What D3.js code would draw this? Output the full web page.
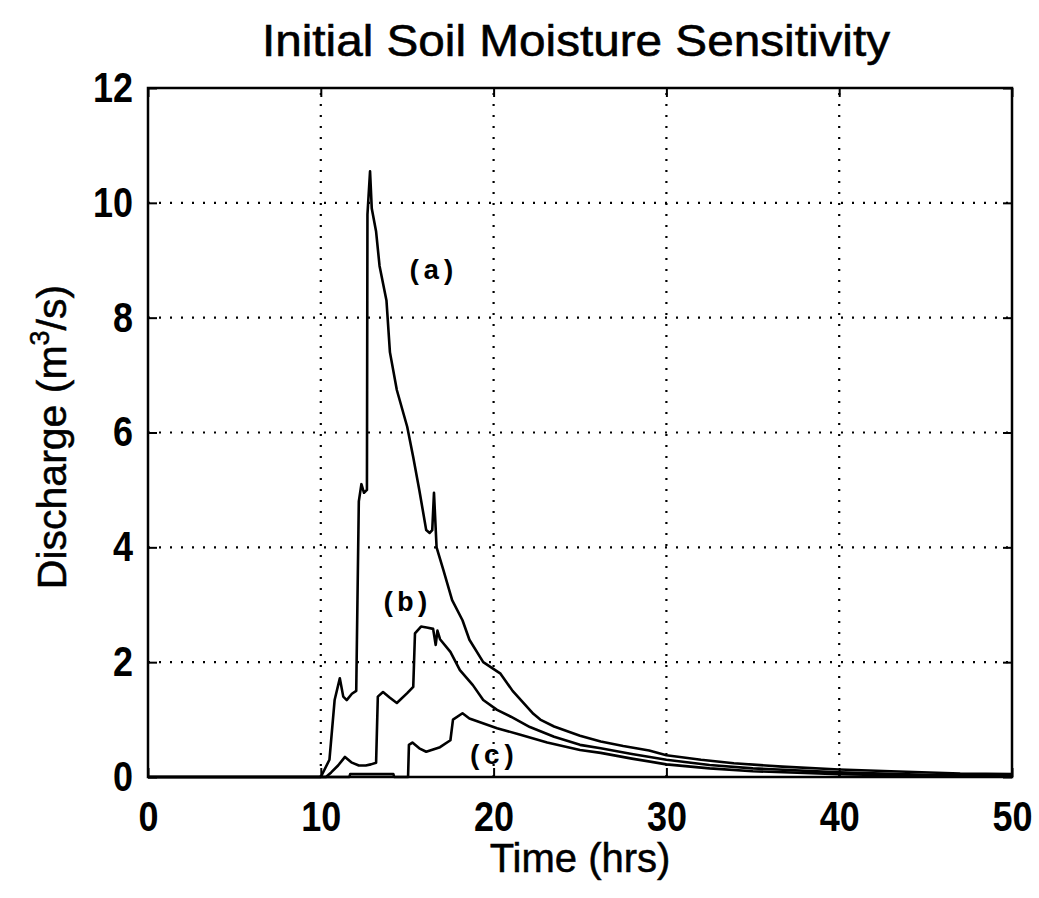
<!DOCTYPE html>
<html>
<head>
<meta charset="utf-8">
<script src="https://cdn.jsdelivr.net/npm/d3@7"></script>
<style>
  body { margin: 0; background: #fff; }
  svg { display: block; }
</style>
</head>
<body>
<div id="chart"></div>
<script>
// Series (time in hrs, discharge in m3/s)
const timeA = [0, 10, 10.5, 10.8, 11.1, 11.3, 11.5, 11.8, 12.05, 12.2, 12.35, 12.5, 12.67, 12.7, 12.85, 12.95, 13.2, 13.4, 13.8, 14.0, 14.4, 15.0, 15.35, 15.7, 16.1, 16.3, 16.45, 16.55, 16.7, 17.1, 17.6, 18.2, 18.6, 19.4, 20.4, 21.1, 22.3, 22.7, 23.5, 25, 26.2, 27.5, 29, 30, 32, 33.9, 36.7, 40, 43, 47, 50];
const flowA = [0, 0, 0.3, 1.34, 1.72, 1.4, 1.34, 1.45, 1.5, 4.8, 5.1, 4.95, 5.0, 9.8, 10.55, 9.9, 9.5, 8.9, 8.3, 7.4, 6.74, 6.1, 5.57, 5.0, 4.3, 4.25, 4.3, 4.95, 4.0, 3.6, 3.08, 2.73, 2.39, 2.0, 1.8, 1.5, 1.1, 1.0, 0.88, 0.72, 0.62, 0.54, 0.46, 0.38, 0.3, 0.24, 0.18, 0.13, 0.1, 0.06, 0.05];

const timeB = [0, 10.3, 10.6, 11.0, 11.4, 11.8, 12.2, 12.6, 12.9, 13.2, 13.3, 13.6, 14.0, 14.4, 15.0, 15.35, 15.45, 15.8, 16.2, 16.5, 16.65, 16.75, 16.9, 17.5, 18.05, 18.8, 19.4, 20.2, 21, 22.1, 23.5, 25, 26.2, 28, 30, 32.5, 35, 40, 45, 50];
const flowB = [0, 0, 0.08, 0.2, 0.35, 0.25, 0.2, 0.2, 0.22, 0.25, 1.4, 1.48, 1.38, 1.29, 1.46, 1.57, 2.5, 2.62, 2.6, 2.58, 2.3, 2.55, 2.4, 2.18, 1.86, 1.6, 1.34, 1.17, 1.05, 0.87, 0.7, 0.56, 0.5, 0.4, 0.3, 0.21, 0.15, 0.08, 0.04, 0.02];

const timeC = [0, 11.65, 11.7, 14.2, 14.25, 15.05, 15.1, 15.3, 15.7, 16.1, 16.9, 17.5, 17.65, 18.2, 18.6, 20.2, 21.5, 23.1, 25, 26.2, 28, 30, 32.5, 35, 40, 45, 50];
const flowC = [0, 0, 0.05, 0.05, 0, 0, 0.56, 0.6, 0.5, 0.44, 0.52, 0.64, 1.0, 1.11, 1.02, 0.85, 0.74, 0.6, 0.47, 0.42, 0.32, 0.22, 0.15, 0.1, 0.05, 0.02, 0.01];

const xTicks = [0, 10, 20, 30, 40, 50];
const yTicks = [0, 2, 4, 6, 8, 10, 12];

const curveLabels = ["(a)", "(b)", "(c)"];
const labelTime = [16.4, 14.9, 19.9];
const labelFlow = [8.8, 3.03, 0.36];

const width = 1039, height = 898;
const margin = {top: 88, right: 27, bottom: 121, left: 148};

const svg = d3.select("#chart")
    .append("svg")
    .attr("width", width)
    .attr("height", height);

const x = d3.scaleLinear().domain([0, 50]).range([margin.left, width - margin.right]);
const y = d3.scaleLinear().domain([0, 12]).range([height - margin.bottom, margin.top]);

// dotted grid
const grid = svg.append("g")
    .attr("stroke", "#000")
    .attr("stroke-width", 2.2)
    .attr("stroke-dasharray", "2,9");

grid.selectAll("line.gx")
    .data(xTicks.slice(1, -1))
    .enter().append("line")
    .attr("x1", d => x(d)).attr("x2", d => x(d))
    .attr("y1", y(0)).attr("y2", y(12));

grid.selectAll("line.gy")
    .data(yTicks.slice(1, -1))
    .enter().append("line")
    .attr("x1", x(0)).attr("x2", x(50))
    .attr("y1", d => y(d)).attr("y2", d => y(d));

// axes - MATLAB style, ticks pointing in on all four sides
const tickLen = 9;
const axisFont = "'Liberation Sans', Arial, sans-serif";

svg.append("g")
    .attr("transform", `translate(0,${y(0)})`)
    .call(d3.axisBottom(x).tickValues(xTicks).tickSize(-tickLen).tickPadding(24))
    .call(g => g.select(".domain").remove());

svg.append("g")
    .attr("transform", `translate(0,${y(12)})`)
    .call(d3.axisTop(x).tickValues(xTicks).tickSize(-tickLen).tickFormat(""))
    .call(g => g.select(".domain").remove());

svg.append("g")
    .attr("transform", `translate(${x(0)},0)`)
    .call(d3.axisLeft(y).tickValues(yTicks).tickSize(-tickLen).tickPadding(15))
    .call(g => g.select(".domain").remove());

svg.append("g")
    .attr("transform", `translate(${x(50)},0)`)
    .call(d3.axisRight(y).tickValues(yTicks).tickSize(-tickLen).tickFormat(""))
    .call(g => g.select(".domain").remove());

svg.selectAll(".tick line").attr("stroke", "#000").attr("stroke-width", 2);
// tick digits in the picture are tall and narrow
svg.selectAll(".tick text")
    .attr("fill", "#000")
    .attr("font-family", axisFont)
    .attr("font-weight", "bold")
    .attr("font-size", "42px")
    .attr("textLength", function() { return this.textContent.length * 20; })
    .attr("lengthAdjust", "spacingAndGlyphs");

// frame
svg.append("rect")
    .attr("x", x(0)).attr("y", y(12))
    .attr("width", x(50) - x(0)).attr("height", y(0) - y(12))
    .attr("fill", "none")
    .attr("stroke", "#000")
    .attr("stroke-width", 2.5);

// curves
const line = d3.line().x(d => x(d[0])).y(d => y(d[1]));
const series = [
    d3.zip(timeA, flowA),
    d3.zip(timeB, flowB),
    d3.zip(timeC, flowC)
];

svg.append("g")
    .selectAll("path")
    .data(series)
    .enter().append("path")
    .attr("d", line)
    .attr("fill", "none")
    .attr("stroke", "#000")
    .attr("stroke-width", 2.6)
    .attr("stroke-linejoin", "round");

// curve labels
svg.append("g")
    .selectAll("text")
    .data(curveLabels)
    .enter().append("text")
    .attr("x", (d, i) => x(labelTime[i]))
    .attr("y", (d, i) => y(labelFlow[i]))
    .attr("text-anchor", "middle")
    .attr("dominant-baseline", "central")
    .attr("font-family", "'Liberation Mono', 'Courier New', monospace")
    .attr("font-weight", "bold")
    .attr("font-size", "28px")
    .text(d => d);

// titles
svg.append("text")
    .attr("x", 576).attr("y", 56)
    .attr("text-anchor", "middle")
    .attr("font-family", axisFont)
    .attr("font-size", "45px")
    .attr("textLength", 628)
    .attr("lengthAdjust", "spacingAndGlyphs")
    .attr("stroke", "#000")
    .attr("stroke-width", 0.6)
    .text("Initial Soil Moisture Sensitivity");

svg.append("text")
    .attr("x", 580).attr("y", 872)
    .attr("text-anchor", "middle")
    .attr("font-family", axisFont)
    .attr("font-size", "40px")
    .attr("stroke", "#000")
    .attr("stroke-width", 0.5)
    .text("Time (hrs)");

const yTitle = svg.append("text")
    .attr("transform", "translate(66,437) rotate(-90)")
    .attr("text-anchor", "middle")
    .attr("font-family", axisFont)
    .attr("font-size", "41px")
    .attr("stroke", "#000")
    .attr("stroke-width", 0.5);
yTitle.append("tspan").text("Discharge (m");
yTitle.append("tspan").attr("font-size", "27px").attr("dy", -17).text("3");
yTitle.append("tspan").attr("dy", 17).text("/s)");
</script>
</body>
</html>
